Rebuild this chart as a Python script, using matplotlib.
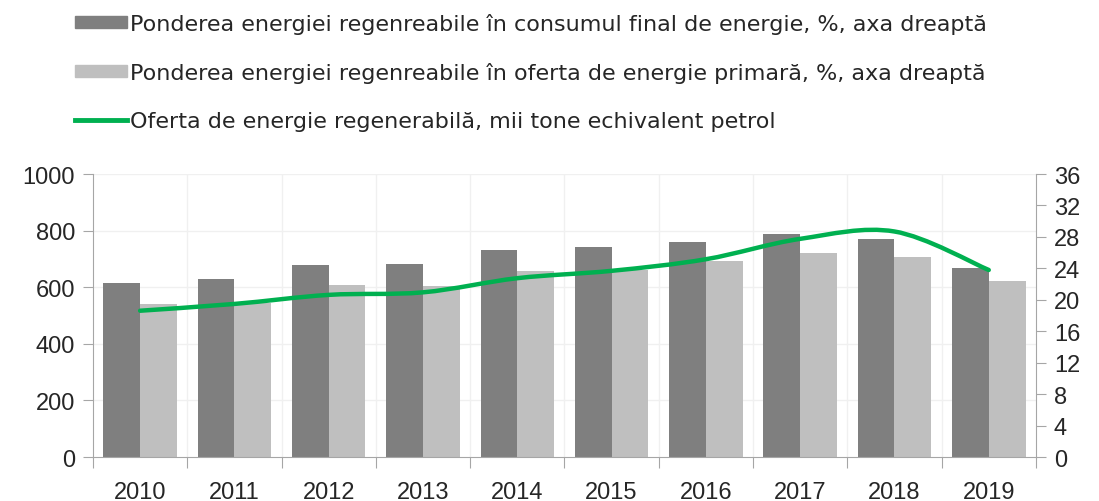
import matplotlib
matplotlib.use('Agg')
import matplotlib.pyplot as plt
from matplotlib.path import Path
from matplotlib.patches import PathPatch, Patch
from matplotlib.lines import Line2D

years = ['2010', '2011', '2012', '2013', '2014', '2015', '2016', '2017', '2018', '2019']
share_final = [22.1, 22.6, 24.4, 24.5, 26.3, 26.7, 27.4, 28.4, 27.7, 24.1]
share_primary = [19.5, 19.6, 21.9, 21.8, 23.7, 23.8, 25.0, 26.0, 25.5, 22.4]
renewable_supply = [517, 541, 573, 582, 632, 658, 699, 771, 797, 661]

left_ticks = [0, 200, 400, 600, 800, 1000]
right_ticks = [0, 4, 8, 12, 16, 20, 24, 28, 32, 36]

labels = ['Ponderea energiei regenreabile în consumul final de energie, %, axa dreaptă',
          'Ponderea energiei regenreabile în oferta de energie primară, %, axa dreaptă',
          'Oferta de energie regenerabilă, mii tone echivalent petrol']

dark = '#7f7f7f'
light = '#bfbfbf'
green = '#00b050'
spine = '#a6a6a6'
txt = '#262626'

plt.rcParams['font.family'] = ['Liberation Sans', 'DejaVu Sans']

fig = plt.figure(figsize=(10.99, 5.02), dpi=100)
ax = fig.add_axes([0.0846, 0.0876, 0.858, 0.5637])
ax2 = ax.twinx()
ax.set_zorder(2)
ax2.set_zorder(1)
ax.patch.set_visible(False)

x = list(range(len(years)))
w = 0.39
ax2.bar([i - w / 2 for i in x], share_final, width=w, color=dark, zorder=3)
ax2.bar([i + w / 2 for i in x], share_primary, width=w, color=light, zorder=3)

# faint gridlines (left axis ticks + category boundaries)
for v in left_ticks[1:]:
    ax2.axhline(v * 36 / 1000, color='#f0f0f0', lw=1, zorder=1)
for b in range(1, len(years)):
    ax2.axvline(b - 0.5, color='#f0f0f0', lw=1, zorder=1)


# smoothed line like Excel's (bezier through points)
def smooth_path(xs, ys):
    n = len(xs)
    verts = [(xs[0], ys[0])]
    codes = [Path.MOVETO]
    for i in range(n - 1):
        x0, y0 = (xs[i - 1], ys[i - 1]) if i > 0 else (xs[i], ys[i])
        x3, y3 = (xs[i + 2], ys[i + 2]) if i + 2 < n else (xs[i + 1], ys[i + 1])
        c1 = (xs[i] + (xs[i + 1] - x0) / 6, ys[i] + (ys[i + 1] - y0) / 6)
        c2 = (xs[i + 1] - (x3 - xs[i]) / 6, ys[i + 1] - (y3 - ys[i]) / 6)
        verts += [c1, c2, (xs[i + 1], ys[i + 1])]
        codes += [Path.CURVE4] * 3
    return Path(verts, codes)


ax.add_patch(PathPatch(smooth_path(x, renewable_supply), fill=False,
                       edgecolor=green, lw=3.2, capstyle='round', zorder=5))

ax.set_xlim(-0.5, len(years) - 0.5)
ax.set_ylim(0, 1000)
ax2.set_ylim(0, 36)
ax.set_yticks(left_ticks)
ax2.set_yticks(right_ticks)

ax.set_xticks([b - 0.5 for b in range(len(years) + 1)])
ax.set_xticklabels([])
ax.set_xticks(x, minor=True)
ax.set_xticklabels(years, minor=True)
ax.tick_params(axis='x', which='major', length=8, color=spine, direction='out')
ax.tick_params(axis='x', which='minor', length=0, pad=17, labelsize=17, labelcolor=txt)
ax.tick_params(axis='y', length=7, color=spine, labelsize=17, labelcolor=txt, pad=6)
ax2.tick_params(axis='y', length=7, color=spine, labelsize=17, labelcolor=txt, pad=6)

for a in (ax, ax2):
    a.spines['top'].set_visible(False)
    for s in ('left', 'right', 'bottom'):
        a.spines[s].set_color(spine)
ax.spines['right'].set_visible(False)
ax2.spines['left'].set_visible(False)
ax2.spines['bottom'].set_visible(False)

handles = [Patch(color=dark), Patch(color=light), Line2D([], [], color=green, lw=3.5)]
fig.legend(handles, labels, loc='upper left', bbox_to_anchor=(0.05, 1.012),
           frameon=False, prop={'family': 'DejaVu Sans', 'size': 16},
           handlelength=2.35, handleheight=0.45,
           handletextpad=0.12, labelspacing=1.27, labelcolor=txt)

fig.savefig('out.png', dpi=100)
